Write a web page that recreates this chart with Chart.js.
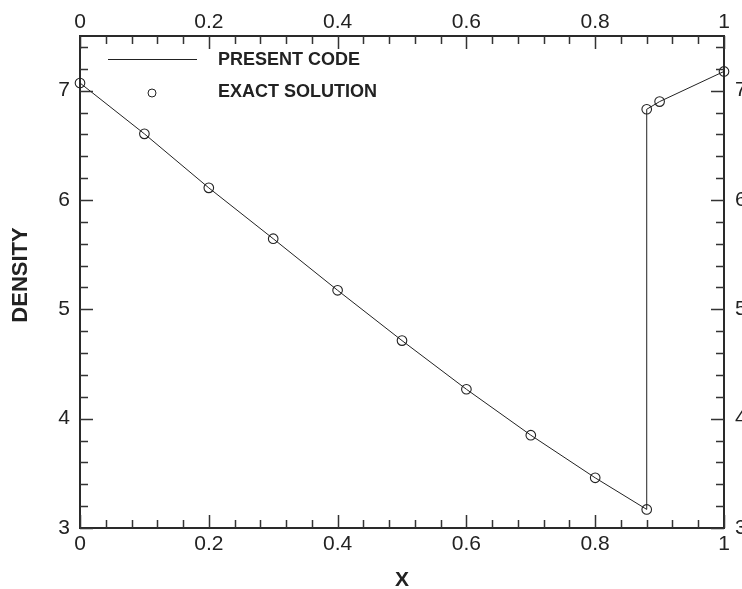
<!DOCTYPE html>
<html>
<head>
<meta charset="utf-8">
<script src="https://cdn.jsdelivr.net/npm/chart.js@4/dist/chart.umd.min.js"></script>
<style>
  html, body { margin: 0; padding: 0; overflow: hidden; background: #fff; width: 742px; height: 589px; }
  #wrap { position: absolute; left: 0; top: 0; width: 780px; height: 589px; }
</style>
</head>
<body>
<div id="wrap"><canvas id="c" width="780" height="589"></canvas></div>
<script>
// Shock tube density profile: exact solution vs. numerical result
const exactX       = [0, 0.1, 0.2, 0.3, 0.4, 0.5, 0.6, 0.7, 0.8, 0.88, 0.88, 0.9, 1.0];
const exactDensity = [7.07, 6.605, 6.111, 5.646, 5.174, 4.714, 4.269, 3.849, 3.459, 3.17, 6.83, 6.90, 7.176];

const codeX       = [0, 0.1, 0.2, 0.3, 0.4, 0.5, 0.6, 0.7, 0.8, 0.88, 0.88, 0.9, 1.0];
const codeDensity = [7.07, 6.605, 6.111, 5.646, 5.174, 4.714, 4.269, 3.849, 3.459, 3.17, 6.83, 6.90, 7.176];

const xTickValues = [0, 0.2, 0.4, 0.6, 0.8, 1];
const xTickLabels = ['0', '0.2', '0.4', '0.6', '0.8', '1'];
const yTickValues = [3, 4, 5, 6, 7];
const yTickLabels = ['3', '4', '5', '6', '7'];

const INK = '#222';
const FONT = '"Liberation Sans", Arial, Helvetica, sans-serif';

const toXY = (xs, ys) => xs.map((x, i) => ({ x: x, y: ys[i] }));

// Inward major/minor ticks on all four sides
const innerTicks = {
  id: 'innerTicks',
  afterDatasetsDraw(chart) {
    const { ctx, chartArea: a, scales } = chart;
    ctx.save();
    ctx.strokeStyle = '#333';
    ctx.lineWidth = 1.5;
    const MAJ = 13, MIN = 8;
    // x: minor every 0.04, major every 0.2
    for (let k = 0; k <= 25; k++) {
      const v = k * 0.04;
      const px = Math.round(scales.x.getPixelForValue(v)) + 0.5;
      const len = (k % 5 === 0) ? MAJ : MIN;
      ctx.beginPath();
      ctx.moveTo(px, a.bottom); ctx.lineTo(px, a.bottom - len);
      ctx.moveTo(px, a.top); ctx.lineTo(px, a.top + len);
      ctx.stroke();
    }
    // y: minor every 0.2, major every 1
    for (let k = 0; k <= 22; k++) {
      const v = 3 + k * 0.2;
      const py = Math.round(scales.y.getPixelForValue(v)) + 0.5;
      const len = (k % 5 === 0) ? MAJ : MIN;
      ctx.beginPath();
      ctx.moveTo(a.left, py); ctx.lineTo(a.left + len, py);
      ctx.moveTo(a.right, py); ctx.lineTo(a.right - len, py);
      ctx.stroke();
    }
    ctx.restore();
  }
};

// Axis titles and in-plot legend
const annotations = {
  id: 'annotations',
  afterDraw(chart) {
    const { ctx, chartArea: a } = chart;
    ctx.save();
    ctx.fillStyle = INK;
    ctx.strokeStyle = INK;

    // legend
    ctx.lineWidth = 1;
    ctx.beginPath();
    ctx.moveTo(a.left + 28, a.top + 23.5);
    ctx.lineTo(a.left + 117, a.top + 23.5);
    ctx.stroke();
    ctx.beginPath();
    ctx.arc(a.left + 72, a.top + 57, 4, 0, Math.PI * 2);
    ctx.stroke();
    ctx.font = 'bold 18px ' + FONT;
    ctx.textAlign = 'left';
    ctx.textBaseline = 'middle';
    ctx.fillText('PRESENT CODE', a.left + 138, a.top + 24);
    ctx.fillText('EXACT SOLUTION', a.left + 138, a.top + 56);

    // axis titles
    ctx.font = 'bold 21px ' + FONT;
    ctx.textAlign = 'center';
    ctx.fillText('X', (a.left + a.right) / 2, 580);
    ctx.font = 'bold 22px ' + FONT;
    ctx.translate(21, 275);
    ctx.rotate(-Math.PI / 2);
    ctx.fillText('DENSITY', 0, 0);
    ctx.restore();
  }
};

const tickFont = { family: FONT, size: 21 };
const borderStyle = { display: true, color: '#2a2a2a', width: 2 };

function xAxis(position, pad, h) {
  return {
    type: 'linear', position: position, min: 0, max: 1,
    grid: { display: false, drawTicks: false },
    border: borderStyle,
    afterBuildTicks: (s) => { s.ticks = xTickValues.map(v => ({ value: v })); },
    afterFit: (s) => { s.height = h; },
    ticks: {
      color: INK, font: tickFont, padding: pad, maxRotation: 0, autoSkip: false,
      callback: (v) => xTickLabels[xTickValues.indexOf(v)]
    }
  };
}
function yAxis(position, pad, w) {
  return {
    type: 'linear', position: position, min: 3, max: 7.5,
    grid: { display: false, drawTicks: false },
    border: borderStyle,
    afterBuildTicks: (s) => { s.ticks = yTickValues.map(v => ({ value: v })); },
    afterFit: (s) => { s.width = w; },
    ticks: {
      color: INK, font: tickFont, padding: pad, autoSkip: false,
      callback: (v) => yTickLabels[yTickValues.indexOf(v)]
    }
  };
}

new Chart(document.getElementById('c'), {
  type: 'scatter',
  data: {
    datasets: [
      {
        label: 'PRESENT CODE',
        data: toXY(codeX, codeDensity),
        showLine: true,
        borderColor: INK,
        borderWidth: 1,
        pointRadius: 0,
        tension: 0,
        clip: false,
        order: 2
      },
      {
        label: 'EXACT SOLUTION',
        data: toXY(exactX, exactDensity),
        showLine: false,
        pointStyle: 'circle',
        pointRadius: 4.8,
        pointBorderWidth: 1.1,
        pointBorderColor: INK,
        pointBackgroundColor: 'rgba(0,0,0,0)',
        clip: false,
        order: 1
      }
    ]
  },
  options: {
    responsive: false,
    animation: false,
    layout: { padding: 0 },
    plugins: { legend: { display: false }, tooltip: { enabled: false } },
    scales: {
      x: xAxis('bottom', 4, 61),
      x2: xAxis('top', 1, 36),
      y: yAxis('left', 10, 80),
      y2: yAxis('right', 11, 56)
    }
  },
  plugins: [innerTicks, annotations]
});
</script>
</body>
</html>
